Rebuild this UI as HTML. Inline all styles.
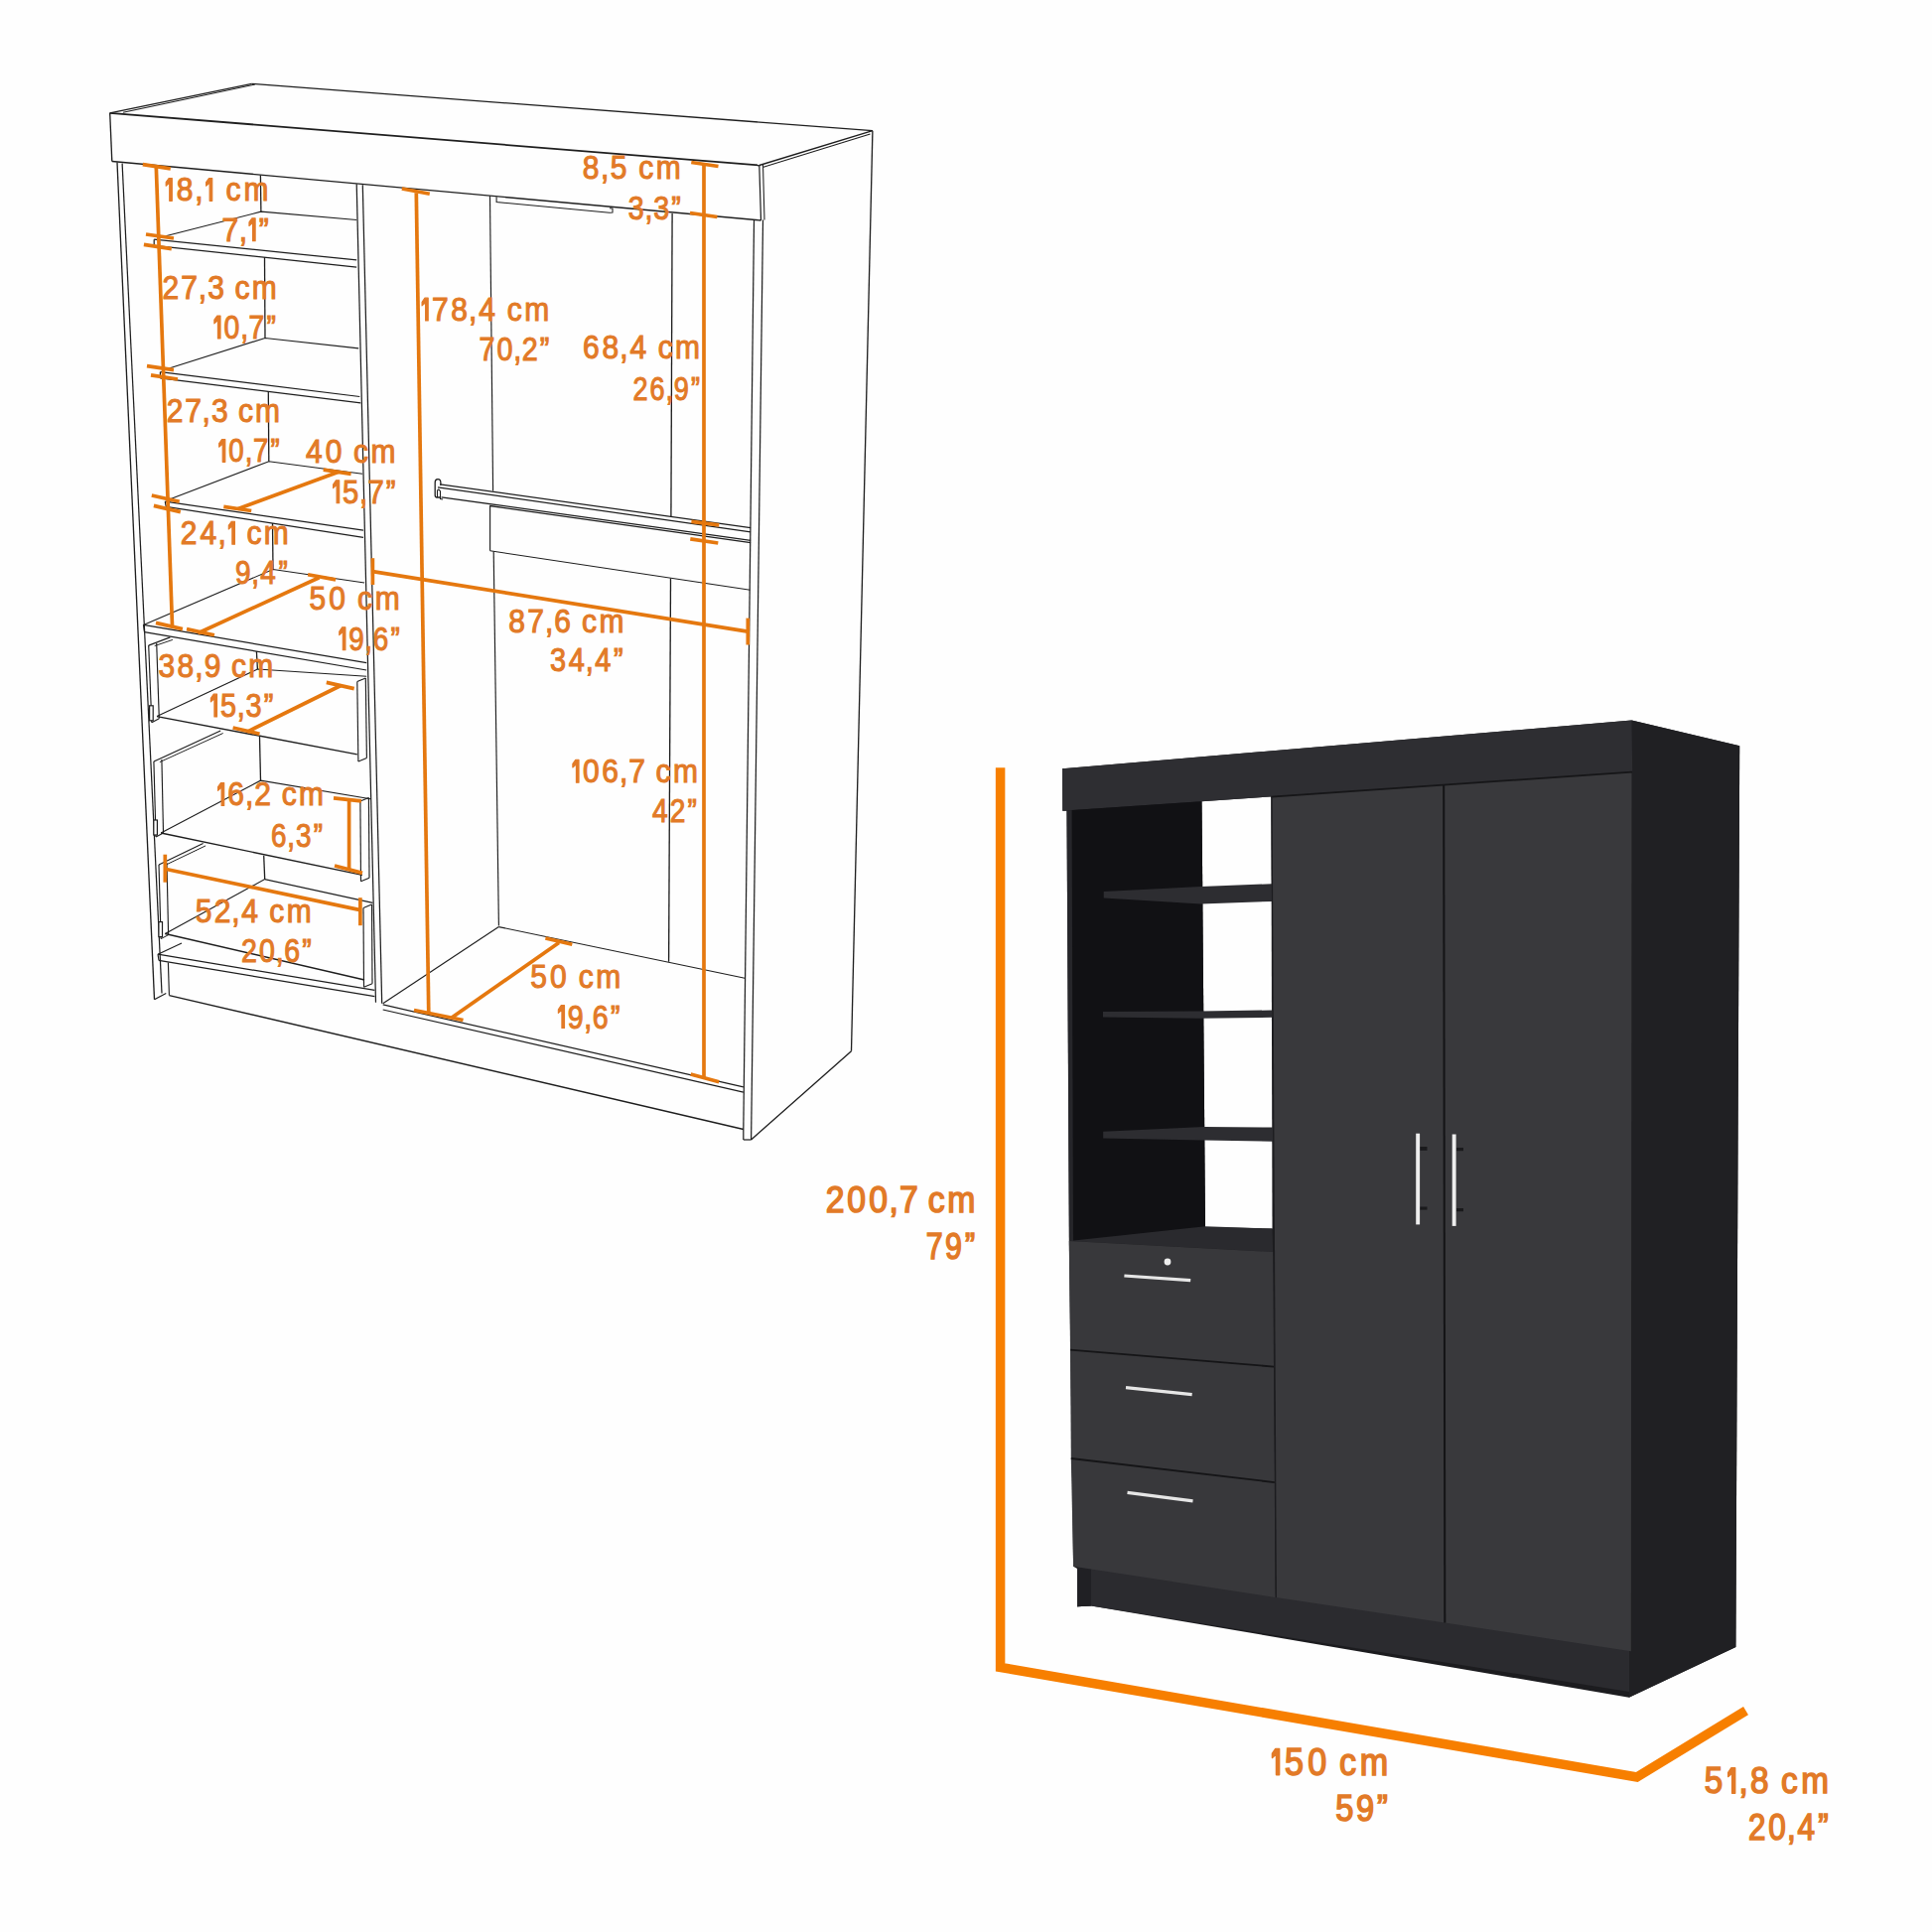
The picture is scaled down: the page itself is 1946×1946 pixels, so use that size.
<!DOCTYPE html>
<html><head><meta charset="utf-8"><style>
html,body{margin:0;padding:0;background:#fff;}
svg{display:block;}
text{font-family:"Liberation Sans",sans-serif;font-kerning:none;}
</style></head><body>
<svg width="1946" height="1946" viewBox="0 0 1946 1946">
<rect width="1946" height="1946" fill="#fefefe"/>
<line x1="110.7" y1="113.8" x2="253.6" y2="84.4" stroke="#1e1e1e" stroke-width="1.32"/>
<line x1="124" y1="113.2" x2="256.8" y2="85.0" stroke="#1e1e1e" stroke-width="1.06"/>
<line x1="253.6" y1="84.4" x2="878.9" y2="131.7" stroke="#1e1e1e" stroke-width="1.32"/>
<line x1="110.7" y1="113.8" x2="764.8" y2="166.5" stroke="#1e1e1e" stroke-width="1.76"/>
<line x1="110.7" y1="113.8" x2="112.8" y2="162.5" stroke="#1e1e1e" stroke-width="1.32"/>
<line x1="112.8" y1="162.5" x2="766.5" y2="222" stroke="#1e1e1e" stroke-width="1.41"/>
<line x1="764.8" y1="166.5" x2="766.5" y2="222" stroke="#1e1e1e" stroke-width="1.23"/>
<line x1="768.5" y1="165.6" x2="770" y2="221.5" stroke="#1e1e1e" stroke-width="1.06"/>
<line x1="764.8" y1="166.5" x2="878.9" y2="131.7" stroke="#1e1e1e" stroke-width="1.32"/>
<line x1="769" y1="168.3" x2="876.5" y2="135" stroke="#1e1e1e" stroke-width="1.06"/>
<line x1="878.9" y1="131.7" x2="857.5" y2="1058.7" stroke="#1e1e1e" stroke-width="1.32"/>
<line x1="857.5" y1="1058.7" x2="756.6" y2="1148" stroke="#1e1e1e" stroke-width="1.32"/>
<line x1="768.5" y1="221.5" x2="756.6" y2="1148" stroke="#1e1e1e" stroke-width="1.23"/>
<line x1="759.5" y1="222" x2="748.8" y2="1139" stroke="#1e1e1e" stroke-width="1.23"/>
<line x1="748.8" y1="1139" x2="748.8" y2="1148" stroke="#1e1e1e" stroke-width="1.23"/>
<line x1="748.8" y1="1148" x2="756.6" y2="1148" stroke="#1e1e1e" stroke-width="1.23"/>
<line x1="118" y1="163.5" x2="155.5" y2="1006.7" stroke="#1e1e1e" stroke-width="1.32"/>
<line x1="123.1" y1="164.6" x2="163" y2="1000.5" stroke="#1e1e1e" stroke-width="1.23"/>
<line x1="155.5" y1="1006.7" x2="167.3" y2="1000.5" stroke="#1e1e1e" stroke-width="1.23"/>
<line x1="359.2" y1="185.3" x2="378.5" y2="1009.8" stroke="#1e1e1e" stroke-width="1.23"/>
<line x1="365.3" y1="186.3" x2="384.7" y2="1010.8" stroke="#1e1e1e" stroke-width="1.23"/>
<line x1="155.2" y1="241.2" x2="359.2" y2="261.9" stroke="#1e1e1e" stroke-width="1.23"/>
<line x1="155.2" y1="247.4" x2="359.2" y2="269.1" stroke="#1e1e1e" stroke-width="1.23"/>
<line x1="155.2" y1="241.2" x2="155.2" y2="247.4" stroke="#1e1e1e" stroke-width="1.23"/>
<polyline points="160,239.5 262.9,213.2 359.2,221.5" fill="none" stroke="#1e1e1e" stroke-width="1.14" stroke-linejoin="miter"/>
<line x1="262.4" y1="176.5" x2="262.9" y2="213.2" stroke="#1e1e1e" stroke-width="1.3"/>
<line x1="161.4" y1="374.7" x2="362.3" y2="399.5" stroke="#1e1e1e" stroke-width="1.23"/>
<line x1="161.4" y1="380.9" x2="363.3" y2="405.8" stroke="#1e1e1e" stroke-width="1.23"/>
<line x1="161.4" y1="374.7" x2="161.4" y2="380.9" stroke="#1e1e1e" stroke-width="1.23"/>
<polyline points="164,373 267,340.5 361.2,350.9" fill="none" stroke="#1e1e1e" stroke-width="1.14" stroke-linejoin="miter"/>
<line x1="266.5" y1="259" x2="267" y2="340.5" stroke="#1e1e1e" stroke-width="1.3"/>
<line x1="166.3" y1="505.2" x2="366" y2="534.2" stroke="#1e1e1e" stroke-width="1.23"/>
<line x1="167.3" y1="510.4" x2="366" y2="541.4" stroke="#1e1e1e" stroke-width="1.23"/>
<line x1="166.3" y1="505.2" x2="167.3" y2="510.4" stroke="#1e1e1e" stroke-width="1.23"/>
<polyline points="168,504 270.8,464.8 365,477.3" fill="none" stroke="#1e1e1e" stroke-width="1.14" stroke-linejoin="miter"/>
<line x1="270.3" y1="394.2" x2="270.8" y2="464.8" stroke="#1e1e1e" stroke-width="1.3"/>
<line x1="144.5" y1="629.4" x2="369.2" y2="667.7" stroke="#1e1e1e" stroke-width="1.23"/>
<line x1="145.5" y1="636.7" x2="369.2" y2="675" stroke="#1e1e1e" stroke-width="1.23"/>
<line x1="144.5" y1="629.4" x2="145.5" y2="636.7" stroke="#1e1e1e" stroke-width="1.23"/>
<polyline points="144.5,629.4 275,573.5 367.1,587" fill="none" stroke="#1e1e1e" stroke-width="1.14" stroke-linejoin="miter"/>
<line x1="274.5" y1="527" x2="275" y2="573.5" stroke="#1e1e1e" stroke-width="1.3"/>
<line x1="149.7" y1="650.1" x2="152.8" y2="727.8" stroke="#1e1e1e" stroke-width="1.14"/>
<line x1="157.7" y1="648.1" x2="160.3" y2="723.8" stroke="#1e1e1e" stroke-width="1.14"/>
<line x1="149.7" y1="650.1" x2="171.4" y2="641.9" stroke="#1e1e1e" stroke-width="1.14"/>
<line x1="155.7" y1="650.6" x2="173.9" y2="644.4" stroke="#1e1e1e" stroke-width="0.97"/>
<rect x="150.6" y="710.8" width="3.6" height="15" fill="#fff" stroke="#1e1e1e" stroke-width="1.2"/>
<line x1="152.8" y1="727.8" x2="160.3" y2="723.8" stroke="#1e1e1e" stroke-width="1.06"/>
<line x1="158" y1="721.6" x2="359.8" y2="759.9" stroke="#1e1e1e" stroke-width="1.41"/>
<polyline points="158,721.6 259.4,674 369.2,681.2" fill="none" stroke="#1e1e1e" stroke-width="1.14" stroke-linejoin="miter"/>
<line x1="258.4" y1="656" x2="259.4" y2="674" stroke="#1e1e1e" stroke-width="1.3"/>
<line x1="359.8" y1="686.4" x2="360.9" y2="767.1" stroke="#1e1e1e" stroke-width="1.14"/>
<line x1="368.3" y1="682.9" x2="369.4" y2="763.6" stroke="#1e1e1e" stroke-width="1.14"/>
<line x1="359.8" y1="686.4" x2="368.3" y2="682.9" stroke="#1e1e1e" stroke-width="1.06"/>
<line x1="360.9" y1="767.1" x2="369.4" y2="763.6" stroke="#1e1e1e" stroke-width="1.06"/>
<line x1="154.9" y1="767.1" x2="157" y2="843" stroke="#1e1e1e" stroke-width="1.14"/>
<line x1="162.9" y1="765.1" x2="164.5" y2="839" stroke="#1e1e1e" stroke-width="1.14"/>
<line x1="154.9" y1="767.1" x2="222.2" y2="736" stroke="#1e1e1e" stroke-width="1.14"/>
<line x1="160.9" y1="767.6" x2="224.7" y2="738.5" stroke="#1e1e1e" stroke-width="0.97"/>
<rect x="154.8" y="826.0" width="3.6" height="15" fill="#fff" stroke="#1e1e1e" stroke-width="1.2"/>
<line x1="157" y1="843" x2="164.5" y2="839" stroke="#1e1e1e" stroke-width="1.06"/>
<line x1="162.1" y1="839" x2="365" y2="881.4" stroke="#1e1e1e" stroke-width="1.41"/>
<polyline points="162.1,839 262.5,786.2 373.3,804.8" fill="none" stroke="#1e1e1e" stroke-width="1.14" stroke-linejoin="miter"/>
<line x1="261.5" y1="742" x2="262.5" y2="786.2" stroke="#1e1e1e" stroke-width="1.3"/>
<line x1="362.9" y1="807" x2="363.5" y2="887.7" stroke="#1e1e1e" stroke-width="1.14"/>
<line x1="371.4" y1="803.5" x2="372.0" y2="884.2" stroke="#1e1e1e" stroke-width="1.14"/>
<line x1="362.9" y1="807" x2="371.4" y2="803.5" stroke="#1e1e1e" stroke-width="1.06"/>
<line x1="363.5" y1="887.7" x2="372.0" y2="884.2" stroke="#1e1e1e" stroke-width="1.06"/>
<line x1="160" y1="871.1" x2="162.1" y2="945.6" stroke="#1e1e1e" stroke-width="1.14"/>
<line x1="168" y1="869.1" x2="169.6" y2="941.6" stroke="#1e1e1e" stroke-width="1.14"/>
<line x1="160" y1="871.1" x2="204.6" y2="849.4" stroke="#1e1e1e" stroke-width="1.14"/>
<line x1="166" y1="871.6" x2="207.1" y2="851.9" stroke="#1e1e1e" stroke-width="0.97"/>
<rect x="159.9" y="928.6" width="3.6" height="15" fill="#fff" stroke="#1e1e1e" stroke-width="1.2"/>
<line x1="162.1" y1="945.6" x2="169.6" y2="941.6" stroke="#1e1e1e" stroke-width="1.06"/>
<line x1="166.3" y1="940.5" x2="367.1" y2="987" stroke="#1e1e1e" stroke-width="1.41"/>
<polyline points="166.3,940.5 266.7,885.6 375.4,909.4" fill="none" stroke="#1e1e1e" stroke-width="1.14" stroke-linejoin="miter"/>
<line x1="265.7" y1="861.8" x2="266.7" y2="885.6" stroke="#1e1e1e" stroke-width="1.3"/>
<line x1="366" y1="914.6" x2="366.5" y2="994.3" stroke="#1e1e1e" stroke-width="1.14"/>
<line x1="374.5" y1="911.1" x2="375.0" y2="990.8" stroke="#1e1e1e" stroke-width="1.14"/>
<line x1="366" y1="914.6" x2="374.5" y2="911.1" stroke="#1e1e1e" stroke-width="1.06"/>
<line x1="366.5" y1="994.3" x2="375.0" y2="990.8" stroke="#1e1e1e" stroke-width="1.06"/>
<line x1="159" y1="961.2" x2="377.4" y2="997.4" stroke="#1e1e1e" stroke-width="1.23"/>
<line x1="160" y1="967.4" x2="377.4" y2="1003.6" stroke="#1e1e1e" stroke-width="1.23"/>
<line x1="159" y1="961.2" x2="160" y2="967.4" stroke="#1e1e1e" stroke-width="1.14"/>
<line x1="159" y1="961.2" x2="183" y2="950" stroke="#1e1e1e" stroke-width="1.14"/>
<line x1="169.4" y1="969.4" x2="170.4" y2="1002.6" stroke="#1e1e1e" stroke-width="1.14"/>
<line x1="170.4" y1="1002.6" x2="748.8" y2="1137.5" stroke="#1e1e1e" stroke-width="1.41"/>
<line x1="385.7" y1="1011.9" x2="748.8" y2="1094.9" stroke="#1e1e1e" stroke-width="1.23"/>
<line x1="385.7" y1="1017" x2="748.8" y2="1100.1" stroke="#1e1e1e" stroke-width="1.23"/>
<line x1="385.7" y1="1010.8" x2="502.4" y2="933.6" stroke="#1e1e1e" stroke-width="1.14"/>
<line x1="502.4" y1="933.6" x2="750.2" y2="985.3" stroke="#1e1e1e" stroke-width="1.14"/>
<line x1="677.1" y1="214.9" x2="675.9" y2="520.5" stroke="#1e1e1e" stroke-width="1.32"/>
<line x1="675.5" y1="582.5" x2="673.6" y2="968.8" stroke="#1e1e1e" stroke-width="1.32"/>
<line x1="493.5" y1="197.3" x2="496.6" y2="494.5" stroke="#1e1e1e" stroke-width="1.14"/>
<line x1="497.2" y1="555.5" x2="502.4" y2="932.5" stroke="#1e1e1e" stroke-width="1.14"/>
<polyline points="500.1,198.3 500.1,203.5 614,214.2 617,214 617,210 614,209.7" fill="none" stroke="#1e1e1e" stroke-width="1.06" stroke-linejoin="miter"/>
<line x1="443.2" y1="487.8" x2="756.1" y2="531.7" stroke="#1e1e1e" stroke-width="1.23"/>
<line x1="441" y1="490.8" x2="756.1" y2="535.9" stroke="#1e1e1e" stroke-width="1.23"/>
<line x1="444.6" y1="500.8" x2="756.1" y2="544.3" stroke="#1e1e1e" stroke-width="1.32"/>
<line x1="493.2" y1="509.5" x2="756.1" y2="546.6" stroke="#1e1e1e" stroke-width="1.32"/>
<path d="M443.5,501 L440,501 Q438.2,501 438.2,498.5 L438.2,486 Q438.2,482.7 441,482.7 Q443.9,482.7 443.9,486.5 L443.9,489" fill="none" stroke="#1e1e1e" stroke-width="1.3"/>
<path d="M440.5,501 L440.5,494.5 Q441,492.5 442.5,493.5 L443.5,495 L443.5,502.5 L446,503" fill="none" stroke="#1e1e1e" stroke-width="1.1"/>
<line x1="493.6" y1="509.5" x2="493.6" y2="554.8" stroke="#1e1e1e" stroke-width="1.14"/>
<line x1="493.6" y1="554.8" x2="755.6" y2="594.2" stroke="#1e1e1e" stroke-width="1.14"/>
<line x1="157.3" y1="167.7" x2="173.5" y2="630.5" stroke="#e5780f" stroke-width="3.7"/>
<line x1="143.8" y1="165.6" x2="171.8" y2="169.8" stroke="#e5780f" stroke-width="3.7"/>
<line x1="147" y1="236" x2="175" y2="240" stroke="#e5780f" stroke-width="3.7"/>
<line x1="144.9" y1="246.4" x2="172.8" y2="250.6" stroke="#e5780f" stroke-width="3.7"/>
<line x1="148" y1="368.6" x2="175" y2="372.6" stroke="#e5780f" stroke-width="3.7"/>
<line x1="152" y1="377.9" x2="179" y2="382" stroke="#e5780f" stroke-width="3.7"/>
<line x1="152.8" y1="499" x2="180.7" y2="505.2" stroke="#e5780f" stroke-width="3.7"/>
<line x1="154.9" y1="509.4" x2="181.8" y2="515.6" stroke="#e5780f" stroke-width="3.7"/>
<line x1="157" y1="627.4" x2="183.9" y2="633.6" stroke="#e5780f" stroke-width="3.7"/>
<line x1="419.3" y1="194.2" x2="431.8" y2="1022" stroke="#e5780f" stroke-width="3.7"/>
<line x1="404.8" y1="190" x2="432.8" y2="195.2" stroke="#e5780f" stroke-width="3.7"/>
<line x1="417" y1="1017.5" x2="466.5" y2="1027.5" stroke="#e5780f" stroke-width="3.7"/>
<line x1="455" y1="1025" x2="563" y2="949.5" stroke="#e5780f" stroke-width="3.7"/>
<line x1="549.4" y1="945" x2="576.3" y2="951.2" stroke="#e5780f" stroke-width="3.7"/>
<line x1="709" y1="165.4" x2="709" y2="1086" stroke="#e5780f" stroke-width="3.7"/>
<line x1="696.3" y1="163.5" x2="723.5" y2="167.5" stroke="#e5780f" stroke-width="3.7"/>
<line x1="695" y1="214.5" x2="722.4" y2="218.5" stroke="#e5780f" stroke-width="3.7"/>
<line x1="696.4" y1="525.3" x2="724.3" y2="528.8" stroke="#e5780f" stroke-width="3.7"/>
<line x1="695.3" y1="542.9" x2="723.3" y2="547" stroke="#e5780f" stroke-width="3.7"/>
<line x1="695.7" y1="1082" x2="724.2" y2="1089.8" stroke="#e5780f" stroke-width="3.7"/>
<line x1="375.4" y1="575.6" x2="753.3" y2="636.1" stroke="#e5780f" stroke-width="3.7"/>
<line x1="375.4" y1="562.2" x2="375.4" y2="589" stroke="#e5780f" stroke-width="3.7"/>
<line x1="753.3" y1="622.6" x2="753.3" y2="649.5" stroke="#e5780f" stroke-width="3.7"/>
<line x1="239.8" y1="512.5" x2="341.2" y2="475.2" stroke="#e5780f" stroke-width="3.7"/>
<line x1="225.3" y1="510.4" x2="253.2" y2="514.5" stroke="#e5780f" stroke-width="3.7"/>
<line x1="325.7" y1="473.1" x2="353.6" y2="477.3" stroke="#e5780f" stroke-width="3.7"/>
<line x1="199.4" y1="637.7" x2="321.5" y2="581.8" stroke="#e5780f" stroke-width="3.7"/>
<line x1="188" y1="633.6" x2="215.9" y2="639.8" stroke="#e5780f" stroke-width="3.7"/>
<line x1="310.1" y1="578.7" x2="338.1" y2="583.9" stroke="#e5780f" stroke-width="3.7"/>
<line x1="249.1" y1="737.1" x2="343.3" y2="690.5" stroke="#e5780f" stroke-width="3.7"/>
<line x1="234.6" y1="733" x2="261.5" y2="739.2" stroke="#e5780f" stroke-width="3.7"/>
<line x1="328.8" y1="687.4" x2="356.7" y2="693.6" stroke="#e5780f" stroke-width="3.7"/>
<line x1="351.6" y1="805.9" x2="351.6" y2="876.3" stroke="#e5780f" stroke-width="3.7"/>
<line x1="336" y1="803.8" x2="364" y2="806.9" stroke="#e5780f" stroke-width="3.7"/>
<line x1="337" y1="872" x2="365" y2="879.4" stroke="#e5780f" stroke-width="3.7"/>
<line x1="166.3" y1="875.2" x2="362.9" y2="916.6" stroke="#e5780f" stroke-width="3.7"/>
<line x1="166.3" y1="860.7" x2="166.3" y2="888.7" stroke="#e5780f" stroke-width="3.7"/>
<line x1="362.9" y1="904.2" x2="362.9" y2="932.2" stroke="#e5780f" stroke-width="3.7"/>
<polygon points="1070,774.2 1643.5,725.5 1752.2,751.2 1748.4,1659 1640.8,1709.7 1099,1617.4 1085,1618.2 1085,1580 1081.1,1577.8 1076.8,1250 1074.5,816.8 1070.3,816.8" fill="#1c1c1f"/>
<polygon points="1210.5,807.2 1280.4,802.4 1281.5,1237.6 1214,1236" fill="#fefefe"/>
<polygon points="1643.5,725.5 1752.2,751.2 1748.4,1659 1640.8,1709.7" fill="#202023"/>
<polygon points="1085,1575 1641,1660 1641,1704 1099,1617.4 1085,1618.2" fill="#2b2b2f"/>
<polygon points="1085,1578 1099,1580 1099,1617.4 1085,1618.2" fill="#202024"/>
<polygon points="1070,774.2 1643.5,725.5 1644.2,777.4 1070.3,816.8" fill="#2e2e32"/>
<polygon points="1074.5,816.5 1080,816 1081.5,1250 1077,1250" fill="#26262a"/>
<polygon points="1079.6,816 1210.5,807.2 1214,1236 1081,1250" fill="#111114"/>
<polygon points="1077,1250 1214,1235.2 1281.5,1237.6 1282.2,1261" fill="#2a2a2e"/>
<polygon points="1111.7,898.1 1209.6,893 1281,890.2 1281,908 1209.6,910.4 1111.7,904.6" fill="#2d2d31"/>
<polygon points="1111,1019.1 1209.6,1018.4 1281.5,1017.5 1281.5,1024.8 1209.6,1025.7 1111,1024.6" fill="#2d2d31"/>
<polygon points="1111.2,1139.7 1212.7,1135 1282,1135.5 1282,1149.8 1212.7,1148.5 1111.2,1146.4" fill="#2d2d31"/>
<polygon points="1076.8,1250.1 1282.2,1261 1283,1376.6 1078,1359.6" fill="#38383b"/>
<polygon points="1078,1359.6 1283,1376.6 1283.8,1493.1 1078.8,1469" fill="#38383b"/>
<polygon points="1078.8,1469 1283.8,1493.1 1284.6,1608.9 1081.1,1577.8" fill="#38383b"/>
<line x1="1078" y1="1359.6" x2="1283" y2="1376.6" stroke="#151517" stroke-width="1.8"/>
<line x1="1078.8" y1="1469" x2="1283.8" y2="1493.1" stroke="#151517" stroke-width="1.8"/>
<polygon points="1280.4,802.4 1454.3,790.5 1455.3,1634.5 1285.3,1608.9" fill="#39393c"/>
<polygon points="1454.3,790.5 1643.5,777.5 1642.8,1663.2 1455.3,1634.5" fill="#39393c"/>
<line x1="1454.2" y1="790.5" x2="1455.3" y2="1634.5" stroke="#141416" stroke-width="2.0"/>
<line x1="1280.4" y1="802.6" x2="1644" y2="777.6" stroke="#161618" stroke-width="1.8"/>
<line x1="1281" y1="802.4" x2="1285.3" y2="1608.9" stroke="#1c1c1f" stroke-width="1.2"/>
<polygon points="1426.2,1141.7 1430.1,1141.7 1430.1,1233.4 1426.2,1233.4" fill="#eeeeee"/>
<polygon points="1430.5,1155 1437.5,1155 1437.5,1158.8 1430.5,1158.8" fill="#1a1a1c"/>
<polygon points="1430.5,1215.5 1437.5,1215.5 1437.5,1218.6 1430.5,1218.6" fill="#1a1a1c"/>
<polygon points="1462.7,1142.5 1466.6,1142.5 1466.6,1234.9 1462.7,1234.9" fill="#eeeeee"/>
<polygon points="1467,1156 1474,1156 1474,1159.2 1467,1159.2" fill="#1a1a1c"/>
<polygon points="1467,1217 1474,1217 1474,1220.2 1467,1220.2" fill="#1a1a1c"/>
<line x1="1132.4" y1="1285" x2="1199.2" y2="1289.7" stroke="#e6e6e6" stroke-width="3.2"/>
<line x1="1134" y1="1397.6" x2="1200.7" y2="1404.6" stroke="#e6e6e6" stroke-width="3.2"/>
<line x1="1135.5" y1="1503.3" x2="1201.5" y2="1511.8" stroke="#e6e6e6" stroke-width="3.2"/>
<circle cx="1176" cy="1271" r="3.4" fill="#eeeeee"/>
<polyline points="1007.6,773.3 1007.6,1679.4 1648.7,1790 1758.5,1723.1" fill="none" stroke="#f77f00" stroke-width="9.5" stroke-linejoin="miter"/>
<text transform="translate(0,202.35) scale(0.9000,1)" x="197.53 218.00 252.91 272.86" y="0" font-size="33.29" fill="#e27a27" stroke="#e27a27" stroke-width="1.1">8,cm</text>
<polygon points="173.33,179.45 173.33,202.35 170.70,202.35 170.70,184.03 167.15,187.24 167.15,183.57 170.04,179.45" fill="#e27a27" stroke="#e27a27" stroke-width="1.1" stroke-linejoin="round"/>
<polygon points="213.76,179.45 213.76,202.35 211.13,202.35 211.13,184.03 207.58,187.24 207.58,183.57 210.47,179.45" fill="#e27a27" stroke="#e27a27" stroke-width="1.1" stroke-linejoin="round"/>
<text transform="translate(0,242.65) scale(0.9000,1)" x="248.46 267.45 289.63" y="0" font-size="33.29" fill="#e27a27" stroke="#e27a27" stroke-width="1.1">7,”</text>
<polygon points="257.14,219.75 257.14,242.65 254.51,242.65 254.51,224.33 250.96,227.54 250.96,223.87 253.85,219.75" fill="#e27a27" stroke="#e27a27" stroke-width="1.1" stroke-linejoin="round"/>
<text transform="translate(0,300.65) scale(0.9000,1)" x="181.71 202.46 221.91 232.51 262.91 282.08" y="0" font-size="33.29" fill="#e27a27" stroke="#e27a27" stroke-width="1.1">27,3cm</text>
<text transform="translate(0,340.95) scale(0.8515,1)" x="264.81 284.39 294.29 315.27" y="0" font-size="33.29" fill="#e27a27" stroke="#e27a27" stroke-width="1.1">0,7”</text>
<polygon points="222.03,318.05 222.03,340.95 219.40,340.95 219.40,322.63 215.85,325.84 215.85,322.17 218.74,318.05" fill="#e27a27" stroke="#e27a27" stroke-width="1.1" stroke-linejoin="round"/>
<text transform="translate(0,424.85) scale(0.9000,1)" x="186.38 206.94 226.21 236.63 266.54 285.52" y="0" font-size="33.29" fill="#e27a27" stroke="#e27a27" stroke-width="1.1">27,3cm</text>
<text transform="translate(0,465.35) scale(0.8282,1)" x="278.08 297.81 307.87 328.99" y="0" font-size="33.29" fill="#e27a27" stroke="#e27a27" stroke-width="1.1">0,7”</text>
<polygon points="226.83,442.45 226.83,465.35 224.20,465.35 224.20,447.03 220.65,450.24 220.65,446.57 223.54,442.45" fill="#e27a27" stroke="#e27a27" stroke-width="1.1" stroke-linejoin="round"/>
<text transform="translate(0,466.35) scale(0.9000,1)" x="342.18 364.31 395.63 415.08" y="0" font-size="33.29" fill="#e27a27" stroke="#e27a27" stroke-width="1.1">40cm</text>
<text transform="translate(0,506.75) scale(0.8774,1)" x="393.33 412.65 422.40 443.21" y="0" font-size="33.29" fill="#e27a27" stroke="#e27a27" stroke-width="1.1">5,7”</text>
<polygon points="341.73,483.85 341.73,506.75 339.10,506.75 339.10,488.43 335.55,491.64 335.55,487.97 338.44,483.85" fill="#e27a27" stroke="#e27a27" stroke-width="1.1" stroke-linejoin="round"/>
<text transform="translate(0,548.15) scale(0.9000,1)" x="202.05 223.77 243.97 276.21 295.41" y="0" font-size="33.29" fill="#e27a27" stroke="#e27a27" stroke-width="1.1">24,cm</text>
<polygon points="236.47,525.25 236.47,548.15 233.84,548.15 233.84,529.83 230.29,533.04 230.29,529.37 233.18,525.25" fill="#e27a27" stroke="#e27a27" stroke-width="1.1" stroke-linejoin="round"/>
<text transform="translate(0,588.45) scale(0.8379,1)" x="282.77 302.16 313.09 334.85" y="0" font-size="33.29" fill="#e27a27" stroke="#e27a27" stroke-width="1.1">9,4”</text>
<text transform="translate(0,614.45) scale(0.9000,1)" x="346.17 368.09 399.97 419.63" y="0" font-size="33.29" fill="#e27a27" stroke="#e27a27" stroke-width="1.1">50cm</text>
<text transform="translate(0,654.75) scale(0.8342,1)" x="420.98 440.39 450.43 471.72" y="0" font-size="33.29" fill="#e27a27" stroke="#e27a27" stroke-width="1.1">9,6”</text>
<polygon points="347.93,631.85 347.93,654.75 345.30,654.75 345.30,636.43 341.75,639.64 341.75,635.97 344.64,631.85" fill="#e27a27" stroke="#e27a27" stroke-width="1.1" stroke-linejoin="round"/>
<text transform="translate(0,681.65) scale(0.9000,1)" x="177.12 198.40 218.14 228.51 258.96 278.19" y="0" font-size="33.29" fill="#e27a27" stroke="#e27a27" stroke-width="1.1">38,9cm</text>
<text transform="translate(0,722.05) scale(0.8643,1)" x="256.78 276.18 286.45 307.55" y="0" font-size="33.29" fill="#e27a27" stroke="#e27a27" stroke-width="1.1">5,3”</text>
<polygon points="218.53,699.15 218.53,722.05 215.90,722.05 215.90,703.73 212.35,706.94 212.35,703.27 215.24,699.15" fill="#e27a27" stroke="#e27a27" stroke-width="1.1" stroke-linejoin="round"/>
<text transform="translate(0,811.45) scale(0.9000,1)" x="254.82 274.58 284.86 315.27 334.52" y="0" font-size="33.29" fill="#e27a27" stroke="#e27a27" stroke-width="1.1">6,2cm</text>
<polygon points="225.73,788.55 225.73,811.45 223.10,811.45 223.10,793.13 219.55,796.34 219.55,792.67 222.44,788.55" fill="#e27a27" stroke="#e27a27" stroke-width="1.1" stroke-linejoin="round"/>
<text transform="translate(0,852.95) scale(0.8343,1)" x="327.26 346.79 357.24 378.54" y="0" font-size="33.29" fill="#e27a27" stroke="#e27a27" stroke-width="1.1">6,3”</text>
<text transform="translate(0,928.55) scale(0.9000,1)" x="218.50 239.64 259.18 270.38 301.49 320.74" y="0" font-size="33.29" fill="#e27a27" stroke="#e27a27" stroke-width="1.1">52,4cm</text>
<text transform="translate(0,968.85) scale(0.8580,1)" x="283.24 304.10 323.63 333.51 354.66" y="0" font-size="33.29" fill="#e27a27" stroke="#e27a27" stroke-width="1.1">20,6”</text>
<text transform="translate(0,323.05) scale(0.9000,1)" x="483.32 504.60 524.55 535.93 567.53 586.97" y="0" font-size="33.29" fill="#e27a27" stroke="#e27a27" stroke-width="1.1">78,4cm</text>
<polygon points="431.23,300.15 431.23,323.05 428.60,323.05 428.60,304.73 425.05,307.94 425.05,304.27 427.94,300.15" fill="#e27a27" stroke="#e27a27" stroke-width="1.1" stroke-linejoin="round"/>
<text transform="translate(0,363.35) scale(0.8613,1)" x="560.27 581.11 600.62 610.50 631.41" y="0" font-size="33.29" fill="#e27a27" stroke="#e27a27" stroke-width="1.1">70,2”</text>
<text transform="translate(0,180.15) scale(0.9000,1)" x="652.05 672.14 683.09 714.62 734.19" y="0" font-size="33.29" fill="#e27a27" stroke="#e27a27" stroke-width="1.1">8,5cm</text>
<text transform="translate(0,221.45) scale(0.8584,1)" x="737.13 756.51 766.81 787.95" y="0" font-size="33.29" fill="#e27a27" stroke="#e27a27" stroke-width="1.1">3,3”</text>
<text transform="translate(0,361.25) scale(0.9000,1)" x="652.37 673.76 693.63 704.92 736.29 755.63" y="0" font-size="33.29" fill="#e27a27" stroke="#e27a27" stroke-width="1.1">68,4cm</text>
<text transform="translate(0,402.55) scale(0.8106,1)" x="786.59 807.37 827.05 837.37 858.71" y="0" font-size="33.29" fill="#e27a27" stroke="#e27a27" stroke-width="1.1">26,9”</text>
<text transform="translate(0,636.55) scale(0.9000,1)" x="569.28 590.41 610.03 620.37 651.19 670.52" y="0" font-size="33.29" fill="#e27a27" stroke="#e27a27" stroke-width="1.1">87,6cm</text>
<text transform="translate(0,675.85) scale(0.8681,1)" x="638.15 659.69 679.48 690.23 711.80" y="0" font-size="33.29" fill="#e27a27" stroke="#e27a27" stroke-width="1.1">34,4”</text>
<text transform="translate(0,788.15) scale(0.9000,1)" x="652.24 673.48 693.26 703.54 734.02 753.30" y="0" font-size="33.29" fill="#e27a27" stroke="#e27a27" stroke-width="1.1">06,7cm</text>
<polygon points="583.03,765.25 583.03,788.15 580.40,788.15 580.40,769.83 576.85,773.04 576.85,769.37 579.74,765.25" fill="#e27a27" stroke="#e27a27" stroke-width="1.1" stroke-linejoin="round"/>
<text transform="translate(0,828.45) scale(0.8447,1)" x="777.69 798.95 819.96" y="0" font-size="33.29" fill="#e27a27" stroke="#e27a27" stroke-width="1.1">42”</text>
<text transform="translate(0,995.15) scale(0.9000,1)" x="593.61 615.54 647.41 667.08" y="0" font-size="33.29" fill="#e27a27" stroke="#e27a27" stroke-width="1.1">50cm</text>
<text transform="translate(0,1035.55) scale(0.8577,1)" x="666.64 685.90 695.78 716.93" y="0" font-size="33.29" fill="#e27a27" stroke="#e27a27" stroke-width="1.1">9,6”</text>
<polygon points="568.53,1012.65 568.53,1035.55 565.90,1035.55 565.90,1017.23 562.35,1020.44 562.35,1016.77 565.24,1012.65" fill="#e27a27" stroke="#e27a27" stroke-width="1.1" stroke-linejoin="round"/>
<text transform="translate(0,1220.90) scale(0.9000,1)" x="924.11 948.09 972.48 994.97 1006.57 1038.49 1060.23" y="0" font-size="37.50" fill="#e27a27" stroke="#e27a27" stroke-width="1.6">200,7cm</text>
<text transform="translate(0,1268.00) scale(0.8161,1)" x="1142.92 1166.67 1190.90" y="0" font-size="37.21" fill="#e27a27" stroke="#e27a27" stroke-width="1.6">79”</text>
<text transform="translate(0,1787.60) scale(0.9000,1)" x="1437.86 1463.55 1498.79 1521.90" y="0" font-size="37.94" fill="#e27a27" stroke="#e27a27" stroke-width="1.6">50cm</text>
<polygon points="1288.55,1761.50 1288.55,1787.60 1285.55,1787.60 1285.55,1766.72 1281.50,1770.37 1281.50,1766.20 1284.80,1761.50" fill="#e27a27" stroke="#e27a27" stroke-width="1.6" stroke-linejoin="round"/>
<text transform="translate(0,1834.00) scale(0.9000,1)" x="1494.77 1517.88 1541.16" y="0" font-size="36.19" fill="#e27a27" stroke="#e27a27" stroke-width="1.6">59”</text>
<text transform="translate(0,1806.20) scale(0.9000,1)" x="1907.63 1946.04 1958.94 1993.31 2015.90" y="0" font-size="36.92" fill="#e27a27" stroke="#e27a27" stroke-width="1.6">5,8cm</text>
<polygon points="1747.62,1780.80 1747.62,1806.20 1744.70,1806.20 1744.70,1785.88 1740.76,1789.44 1740.76,1785.37 1743.96,1780.80" fill="#e27a27" stroke="#e27a27" stroke-width="1.6" stroke-linejoin="round"/>
<text transform="translate(0,1852.80) scale(0.8554,1)" x="2058.84 2082.29 2104.29 2116.65 2140.97" y="0" font-size="36.77" fill="#e27a27" stroke="#e27a27" stroke-width="1.6">20,4”</text>
</svg>
</body></html>
